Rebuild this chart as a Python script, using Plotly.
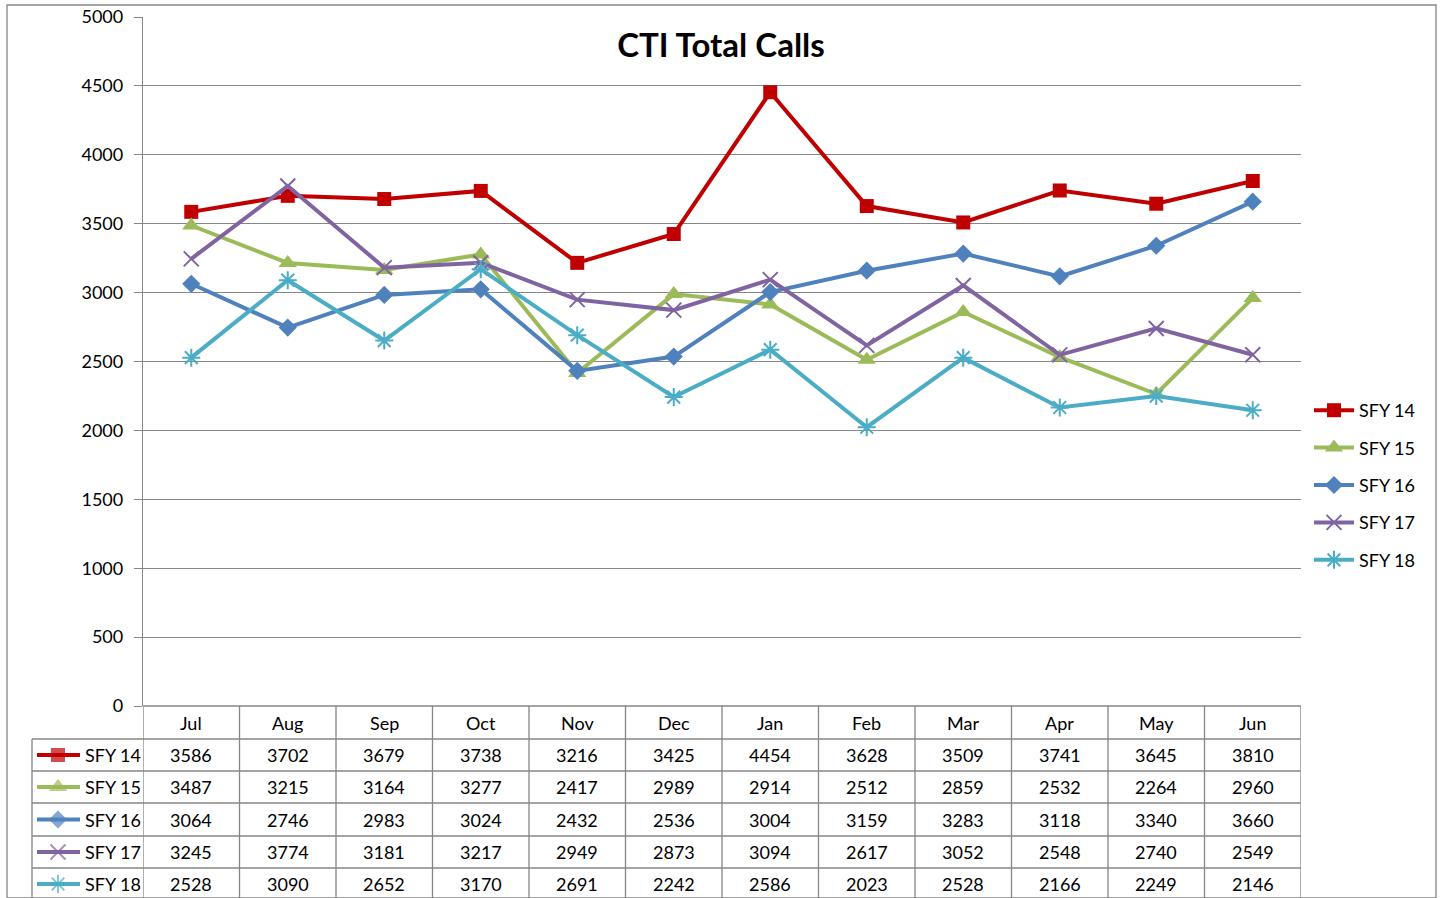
import plotly.graph_objects as go

months = ["Jul", "Aug", "Sep", "Oct", "Nov", "Dec", "Jan", "Feb", "Mar", "Apr", "May", "Jun"]
series_names = ["SFY 14", "SFY 15", "SFY 16", "SFY 17", "SFY 18"]
sfy14 = [3586, 3702, 3679, 3738, 3216, 3425, 4454, 3628, 3509, 3741, 3645, 3810]
sfy15 = [3487, 3215, 3164, 3277, 2417, 2989, 2914, 2512, 2859, 2532, 2264, 2960]
sfy16 = [3064, 2746, 2983, 3024, 2432, 2536, 3004, 3159, 3283, 3118, 3340, 3660]
sfy17 = [3245, 3774, 3181, 3217, 2949, 2873, 3094, 2617, 3052, 2548, 2740, 2549]
sfy18 = [2528, 3090, 2652, 3170, 2691, 2242, 2586, 2023, 2528, 2166, 2249, 2146]
series_values = [sfy14, sfy15, sfy16, sfy17, sfy18]

colors = ["#C00000", "#9BBB59", "#4F81BD", "#8064A2", "#4BACC6"]
symbols = ["square", "triangle-up", "diamond", "x-thin-open", "asterisk-open"]
sizes = [14, 16, 14, 15, 15]

W, H = 1443, 898
FONT = "Lato"
GRID = "#868686"


def px(x):
    return x / W


def py(y):
    return 1 - y / H


fig = go.Figure()

for name, vals, c, s, sz in zip(series_names, series_values, colors, symbols, sizes):
    open_sym = s.endswith("open")
    fig.add_trace(go.Scatter(
        x=months, y=vals, name=name, mode="lines+markers",
        legendgroup=name,
        line=dict(color=c, width=4),
        marker=dict(symbol=s, size=sz, color=c,
                    line=dict(color=c, width=2 if open_sym else 0)),
    ))

# table legend icons (decorations on an overlay pixel axis)
row_centers = [755, 787, 819.5, 852, 884]
for name, c, s, sz, rc in zip(series_names, colors, symbols, sizes, row_centers):
    open_sym = s.endswith("open")
    fig.add_trace(go.Scatter(
        x=[37, 58, 80], y=[rc, rc, rc], mode="lines+markers", xaxis="x2", yaxis="y2",
        showlegend=False, hoverinfo="skip",
        line=dict(color=c, width=4),
        marker=dict(symbol=s, size=[0, sz, 0], color=c,
                    line=dict(color=c, width=2 if open_sym else 0)),
    ))

shapes = []
# outer chart border
shapes.append(dict(type="rect", xref="paper", yref="paper", x0=px(7), x1=px(1436),
                   y0=0, y1=py(5), line=dict(color=GRID, width=1.3)))
# table lines
line_style = dict(color=GRID, width=1.3)
for k in range(len(months) + 1):
    shapes.append(dict(type="line", xref="x", yref="paper", x0=k - 0.5, x1=k - 0.5,
                       y0=0, y1=py(706), line=line_style))
shapes.append(dict(type="line", xref="paper", yref="paper", x0=px(32), x1=px(32),
                   y0=0, y1=py(739), line=line_style))
for yy in [739, 771, 803, 836, 868]:
    shapes.append(dict(type="line", xref="paper", yref="paper", x0=px(32), x1=px(1301),
                       y0=py(yy), y1=py(yy), line=line_style))
shapes.append(dict(type="line", xref="paper", yref="paper", x0=px(143), x1=px(1301),
                   y0=py(706), y1=py(706), line=line_style))

annotations = []
for i, m in enumerate(months):
    annotations.append(dict(x=i, y=py(722.5), xref="x", yref="paper", text=m,
                            showarrow=False, font=dict(family=FONT, size=18, color="black"),
                            xanchor="center", yanchor="middle"))
for name, vals, rc in zip(series_names, series_values, row_centers):
    annotations.append(dict(x=px(83), y=py(rc), xref="paper", yref="paper", text=name,
                            showarrow=False, font=dict(family=FONT, size=18, color="black"),
                            xanchor="left", yanchor="middle"))
    for i, v in enumerate(vals):
        annotations.append(dict(x=i, y=py(rc), xref="x", yref="paper", text=str(v),
                                showarrow=False, font=dict(family=FONT, size=18, color="black"),
                                xanchor="center", yanchor="middle"))

fig.update_layout(
    width=W, height=H,
    margin=dict(l=0, r=0, t=0, b=0, pad=0, autoexpand=False),
    paper_bgcolor="white", plot_bgcolor="rgba(0,0,0,0)",
    title=dict(text="<b>CTI Total Calls</b>", x=721 / W, xanchor="center",
               y=py(45), yanchor="middle", font=dict(family=FONT, size=33, color="black")),
    font=dict(family=FONT, size=18, color="black"),
    xaxis=dict(domain=[px(143), px(1301)], range=[-0.5, 11.5], showticklabels=False,
               ticks="", showgrid=False, zeroline=False, showline=False, fixedrange=True,
               automargin=False),
    yaxis=dict(domain=[py(706), py(17)], range=[0, 5000], dtick=500, tick0=0,
               showgrid=True, gridcolor=GRID, gridwidth=1.3, zeroline=False,
               showline=True, linecolor=GRID, linewidth=1.3,
               ticks="outside", ticklen=8, tickcolor=GRID, tickwidth=1.3,
               ticklabelstandoff=7, automargin=False, fixedrange=True,
               tickfont=dict(family=FONT, size=18, color="black")),
    xaxis2=dict(domain=[0, 1], range=[0, W], visible=False, fixedrange=True, anchor="y2",
                automargin=False),
    yaxis2=dict(domain=[0, 1], range=[H, 0], visible=False, fixedrange=True, anchor="x2",
                automargin=False),
    legend=dict(x=px(1309), y=py(485), xanchor="left", yanchor="middle",
                font=dict(family=FONT, size=18, color="black"),
                tracegroupgap=11, itemwidth=40, bgcolor="rgba(0,0,0,0)"),
    shapes=shapes,
    annotations=annotations,
    showlegend=True,
)

fig.write_html("out.html", config={"displayModeBar": False},
               post_script="document.body.style.margin='0';")
